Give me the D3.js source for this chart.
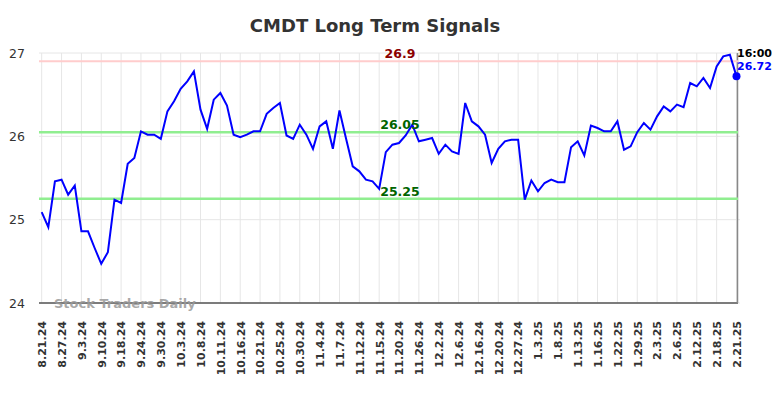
<!DOCTYPE html>
<html>
<head>
<meta charset="utf-8">
<script src="https://cdn.jsdelivr.net/npm/d3@7"></script>
<style>
  body { margin: 0; background: #fff; }
  text { font-family: "DejaVu Sans", sans-serif; }
</style>
</head>
<body>
<script>
const width = 784;
const height = 398;

// one label every third data point
const dateLabels = ['8.21.24', '8.27.24', '9.3.24', '9.10.24', '9.18.24', '9.24.24', '9.30.24',
    '10.3.24', '10.8.24', '10.11.24', '10.16.24', '10.21.24', '10.25.24', '10.30.24', '11.4.24',
    '11.7.24', '11.12.24', '11.15.24', '11.20.24', '11.26.24', '12.2.24', '12.6.24', '12.16.24',
    '12.20.24', '12.27.24', '1.3.25', '1.8.25', '1.13.25', '1.16.25', '1.22.25', '1.29.25',
    '2.3.25', '2.6.25', '2.12.25', '2.18.25', '2.21.25'];

const prices = [
    25.09, 24.91, 25.46, 25.48, 25.30, 25.41, 24.86, 24.86, 24.66, 24.47,
    24.61, 25.24, 25.20, 25.67, 25.74, 26.06, 26.02, 26.02, 25.97, 26.30,
    26.42, 26.57, 26.66, 26.78, 26.32, 26.09, 26.44, 26.52, 26.37, 26.02,
    25.99, 26.02, 26.06, 26.06, 26.27, 26.34, 26.40, 26.01, 25.97, 26.14,
    26.02, 25.85, 26.12, 26.18, 25.85, 26.31, 25.97, 25.64, 25.58, 25.48,
    25.46, 25.37, 25.81, 25.90, 25.92, 26.01, 26.14, 25.94, 25.96, 25.98,
    25.79, 25.90, 25.82, 25.79, 26.40, 26.18, 26.12, 26.02, 25.68, 25.85,
    25.94, 25.96, 25.96, 25.24, 25.47, 25.34, 25.44, 25.48, 25.45, 25.45,
    25.87, 25.94, 25.77, 26.13, 26.10, 26.06, 26.06, 26.18, 25.84, 25.88,
    26.05, 26.16, 26.08, 26.24, 26.36, 26.30, 26.38, 26.35, 26.64, 26.60,
    26.70, 26.58, 26.84, 26.96, 26.98, 26.72
];

const yTicks = [24, 25, 26, 27];
const resistance = 26.9;
const supports = [26.05, 25.25];
const lastTime = '16:00';

const x = d3.scaleLinear().domain([0, prices.length - 1]).range([41.7, 736.5]);
const y = d3.scaleLinear().domain([24, 27]).range([303, 53]);
const labelIdx = d3.range(0, prices.length, 3);

const svg = d3.select('body')
    .append('svg')
    .attr('width', width)
    .attr('height', height);

// title
svg.append('text')
    .attr('x', 375)
    .attr('y', 32)
    .attr('text-anchor', 'middle')
    .attr('font-size', 18)
    .attr('font-weight', 'bold')
    .attr('fill', '#333')
    .text('CMDT Long Term Signals');

// grid
svg.append('g')
    .selectAll('line')
    .data(labelIdx)
    .join('line')
    .attr('x1', (d) => x(d))
    .attr('x2', (d) => x(d))
    .attr('y1', y(27))
    .attr('y2', y(24))
    .attr('stroke', '#e6e6e6')
    .attr('stroke-width', 1);

svg.append('g')
    .selectAll('line')
    .data(yTicks)
    .join('line')
    .attr('x1', 39)
    .attr('x2', 740)
    .attr('y1', (d) => y(d))
    .attr('y2', (d) => y(d))
    .attr('stroke', '#e6e6e6')
    .attr('stroke-width', 1);

// y labels
svg.append('g')
    .selectAll('text')
    .data(yTicks)
    .join('text')
    .attr('x', 25)
    .attr('y', (d) => y(d) + 4.5)
    .attr('text-anchor', 'end')
    .attr('font-size', 12.5)
    .attr('fill', '#333')
    .text((d) => d);

// x axis
const xAxis = svg.append('g')
    .attr('transform', `translate(0,${y(24)})`)
    .call(d3.axisBottom(x)
        .tickValues(labelIdx)
        .tickFormat((d) => dateLabels[d / 3])
        .tickSize(0));

xAxis.select('.domain').remove();
xAxis.selectAll('text')
    .attr('transform', 'rotate(-90)')
    .attr('text-anchor', 'end')
    .attr('x', -18)
    .attr('y', 0)
    .attr('dy', '0.35em')
    .attr('font-size', 11)
    .attr('font-weight', 'bold')
    .attr('font-family', '"DejaVu Sans", sans-serif')
    .attr('fill', '#333');

svg.append('line')
    .attr('x1', 39).attr('x2', 738)
    .attr('y1', y(24)).attr('y2', y(24))
    .attr('stroke', '#555')
    .attr('stroke-width', 1.5);

svg.append('line')
    .attr('x1', 737.5).attr('x2', 737.5)
    .attr('y1', y(27)).attr('y2', y(24))
    .attr('stroke', '#888')
    .attr('stroke-width', 1.5);

// resistance / support
svg.append('line')
    .attr('x1', 39).attr('x2', 738)
    .attr('y1', y(resistance)).attr('y2', y(resistance))
    .attr('stroke', '#ffcccc')
    .attr('stroke-width', 2);

svg.append('text')
    .attr('x', 400)
    .attr('y', y(resistance) - 3)
    .attr('text-anchor', 'middle')
    .attr('font-size', 12.5)
    .attr('font-weight', 'bold')
    .attr('fill', '#8b0000')
    .text(resistance);

svg.append('g')
    .selectAll('line')
    .data(supports)
    .join('line')
    .attr('x1', 39).attr('x2', 738)
    .attr('y1', (d) => y(d))
    .attr('y2', (d) => y(d))
    .attr('stroke', '#90ee90')
    .attr('stroke-width', 2.5);

// watermark
svg.append('text')
    .attr('x', 54)
    .attr('y', 308)
    .attr('font-size', 13)
    .attr('font-weight', 'bold')
    .attr('fill', '#999')
    .attr('fill-opacity', 0.85)
    .text('Stock Traders Daily');

// price line
svg.append('path')
    .datum(prices)
    .attr('d', d3.line().x((d, i) => x(i)).y((d) => y(d)))
    .attr('fill', 'none')
    .attr('stroke', '#0000ff')
    .attr('stroke-width', 2);

svg.append('g')
    .selectAll('text')
    .data(supports)
    .join('text')
    .attr('x', 400)
    .attr('y', (d) => y(d) - 3)
    .attr('text-anchor', 'middle')
    .attr('font-size', 12.5)
    .attr('font-weight', 'bold')
    .attr('fill', '#006400')
    .text((d) => d);

// last point
const last = prices[prices.length - 1];
svg.append('circle')
    .attr('cx', x(prices.length - 1))
    .attr('cy', y(last))
    .attr('r', 4)
    .attr('fill', '#0000ff');

svg.append('text')
    .attr('x', 737)
    .attr('y', 57)
    .attr('font-size', 11)
    .attr('font-weight', 'bold')
    .attr('fill', '#000')
    .text(lastTime);

svg.append('text')
    .attr('x', 737)
    .attr('y', 70)
    .attr('font-size', 11)
    .attr('font-weight', 'bold')
    .attr('fill', '#0000ff')
    .text(last.toFixed(2));
</script>
</body>
</html>
